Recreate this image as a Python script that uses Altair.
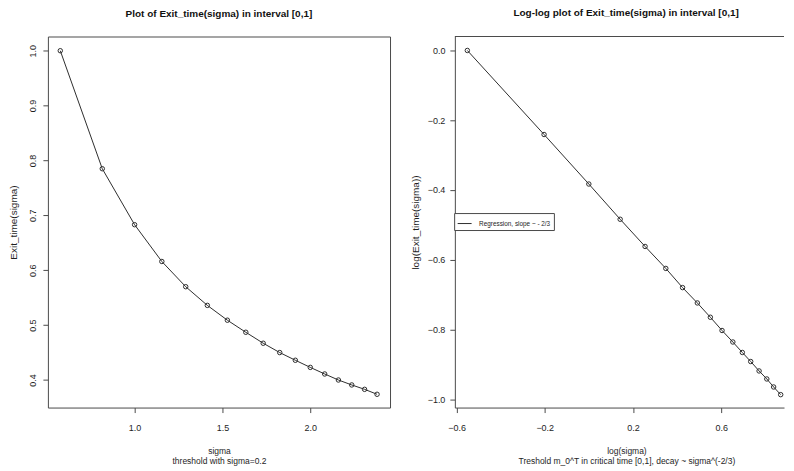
import altair as alt
import pandas as pd

# ---- data ----
sigma = [0.577, 0.816, 1.000, 1.155, 1.291, 1.414, 1.528, 1.633, 1.732,
         1.826, 1.915, 2.000, 2.082, 2.160, 2.236, 2.309, 2.380]
exit_time = [1.000, 0.785, 0.683, 0.616, 0.570, 0.536, 0.509, 0.487, 0.467,
             0.450, 0.436, 0.423, 0.411, 0.400, 0.391, 0.383, 0.374]
log_sigma = [-0.551, -0.203, 0.000, 0.142, 0.255, 0.349, 0.425, 0.492, 0.551,
             0.604, 0.653, 0.696, 0.734, 0.772, 0.807, 0.838, 0.870]
log_exit = [0.000, -0.241, -0.383, -0.484, -0.562, -0.625, -0.680, -0.724, -0.765,
            -0.803, -0.836, -0.866, -0.892, -0.919, -0.942, -0.965, -0.987]

left_x_ticks = [1.0, 1.5, 2.0]
left_y_ticks = [0.4, 0.5, 0.6, 0.7, 0.8, 0.9, 1.0]
right_x_ticks = [-0.6, -0.2, 0.2, 0.6]
right_y_ticks = [0.0, -0.2, -0.4, -0.6, -0.8, -1.0]

legend_label = "Regression, slope ~ - 2/3"
title_left = "Plot of Exit_time(sigma) in interval [0,1]"
title_right = "Log-log plot of Exit_time(sigma) in interval [0,1]"
xlab_left = ["sigma", "threshold with sigma=0.2"]
xlab_right = ["log(sigma)", "Treshold m_0^T in critical time [0,1], decay ~ sigma^(-2/3)"]
ylab_left = "Exit_time(sigma)"
ylab_right = "log(Exit_time(sigma))"

FONT = "Liberation Sans"
INK = "#2e2e2e"
FRAME = "#4a4a4a"
TXT = "#1e1e1e"

df1 = pd.DataFrame({"sigma": sigma, "exit_time": exit_time})
df2 = pd.DataFrame({"log_sigma": log_sigma, "log_exit": log_exit,
                    "series": [legend_label] * len(log_sigma)})

W1, W2, H = 343, 330, 372

common_axis = dict(grid=False, tickSize=5, tickColor=FRAME, labelColor=TXT,
                   titleColor=TXT, labelFont=FONT, titleFont=FONT,
                   labelFontSize=9, titleFontWeight="normal")

# ---- left panel ----
x1 = alt.X("sigma:Q",
           scale=alt.Scale(domain=[0.5065, 2.4538], nice=False, zero=False),
           axis=alt.Axis(values=left_x_ticks, format=".1f", title=xlab_left,
                         domain=False, labelPadding=11, titlePadding=14,
                         titleFontSize=8.5, titleLineHeight=10, **common_axis))
y1 = alt.Y("exit_time:Q",
           scale=alt.Scale(domain=[0.3498, 1.0259], nice=False, zero=False),
           axis=alt.Axis(values=left_y_ticks, format=".1f", title=ylab_left,
                         domain=False, labelAngle=270, labelAlign="center",
                         labelBaseline="bottom", labelPadding=5, titlePadding=10,
                         titleFontSize=10, **common_axis))

base1 = alt.Chart(df1)
line1 = base1.mark_line(color=INK, strokeWidth=1).encode(x=x1, y=y1)
pts1 = base1.mark_point(shape="circle", filled=False, size=20, color=INK,
                        strokeWidth=1, opacity=1).encode(x=x1, y=y1)
left = alt.layer(line1, pts1).properties(
    width=W1, height=H,
    title=alt.TitleParams(title_left, offset=18),
    view=alt.ViewBackground(stroke=FRAME, strokeWidth=1),
)

# ---- right panel ----
x2 = alt.X("log_sigma:Q",
           scale=alt.Scale(domain=[-0.6076, 0.885], nice=False, zero=False),
           axis=alt.Axis(values=right_x_ticks, format=".1f", title=xlab_right,
                         domain=True, domainColor=FRAME, labelPadding=11,
                         titlePadding=14, titleFontSize=8.5, titleLineHeight=10,
                         titleX=172, **common_axis))
y2 = alt.Y("log_exit:Q",
           scale=alt.Scale(domain=[-1.024, 0.040], nice=False, zero=False),
           axis=alt.Axis(values=right_y_ticks, format=".1f", title=ylab_right,
                         domain=True, domainColor=FRAME, labelPadding=5,
                         titlePadding=7, titleFontSize=10, **common_axis))

base2 = alt.Chart(df2)
line2 = base2.mark_line(strokeWidth=1).encode(
    x=x2, y=y2,
    color=alt.Color("series:N", scale=alt.Scale(range=[INK]),
                    legend=alt.Legend(orient="none", legendX=407.3, legendY=177,
                                      title=None, symbolType="stroke",
                                      symbolSize=196, symbolStrokeWidth=1,
                                      symbolStrokeColor=INK,
                                      labelFont=FONT, labelFontSize=6.4,
                                      labelColor=TXT, labelOffset=7,
                                      strokeColor=FRAME, fillColor="white",
                                      padding=3, cornerRadius=0)),
)
pts2 = base2.mark_point(shape="circle", filled=False, size=20, color=INK,
                        strokeWidth=1, opacity=1).encode(x=x2, y=y2)
top_border = alt.Chart(pd.DataFrame({"k": [0]})).mark_rule(
    color=FRAME, strokeWidth=1).encode(x=alt.value(0), x2=alt.value(W2), y=alt.value(0))

right = alt.layer(line2, pts2, top_border).properties(
    width=W2, height=H,
    title=alt.TitleParams(title_right, offset=18, dx=6.7),
    view=alt.ViewBackground(stroke="transparent"),
)

chart = alt.hconcat(left, right, spacing=65, bounds="flush").properties(
    padding={"left": 0, "top": -1, "right": 0, "bottom": 0},
    background="white",
).configure(font=FONT).configure_view(
    stroke=FRAME, strokeWidth=1
).configure_title(
    font=FONT, fontSize=10, fontWeight="bold", color="#111111", anchor="middle",
)

chart.save("out.html", embed_options={"renderer": "svg", "actions": False})
